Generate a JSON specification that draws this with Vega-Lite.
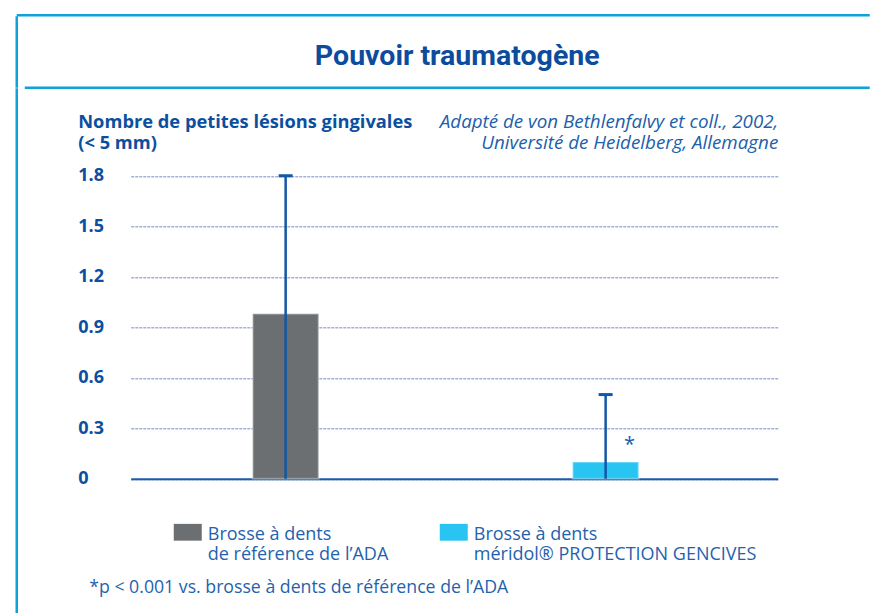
{
  "$schema": "https://vega.github.io/schema/vega-lite/v6.json",
  "padding": {"left": 14.75, "top": 8.25, "right": 0, "bottom": 0},
  "background": "white",
  "spacing": 0,
  "bounds": "flush",
  "config": {"font": "Open Sans", "concat": {"spacing": 0}},
  "datasets": {
    "barres": [
      {"brosse": "Brosse à dents|de référence de l’ADA", "moyenne": 0.98, "erreur_bas": 0, "erreur_haut": 1.8, "signif": ""},
      {"brosse": "Brosse à dents|méridol® PROTECTION GENCIVES", "moyenne": 0.1, "erreur_bas": 0, "erreur_haut": 0.5, "signif": "*"}
    ]
  },
  "vconcat": [
    {
      "width": 853,
      "height": 1,
      "data": {"values": [{"vide": ""}]},
      "view": {"stroke": "#0ea1da", "strokeWidth": 2.5, "strokeDash": [853, 855]},
      "mark": {"type": "text"},
      "encoding": {"text": {"field": "vide"}}
    },
    {
      "width": 853,
      "height": 71.5,
      "data": {"values": [{"titre": "Pouvoir traumatogène"}]},
      "view": {"stroke": "#0ea1da", "strokeWidth": 2.5, "strokeDash": [0, 924.5, 845, 8, 71.5, 0]},
      "mark": {"type": "text", "font": "Roboto", "fontWeight": "bold", "fontSize": 28.5, "color": "#0d4c9c", "baseline": "middle", "dx": 14, "dy": 3.5},
      "encoding": {"text": {"field": "titre"}}
    },
    {
      "width": 853,
      "height": 528,
      "data": {"name": "barres"},
      "view": {"stroke": "#0ea1da", "strokeWidth": 2.5, "strokeDash": [0, 2234, 528, 0]},
      "resolve": {"axis": {"y": "independent"}},
      "layer": [
        {
          "mark": {"type": "bar", "stroke": "white", "strokeOpacity": 0.3, "strokeWidth": 2},
          "encoding": {
            "x": {
              "field": "brosse", "type": "nominal", "sort": null,
              "scale": {"range": [114, 761], "paddingInner": 0.794, "paddingOuter": 0.408, "align": 0.467},
              "axis": {
                "orient": "bottom", "offset": -137.5, "labels": false, "ticks": false, "grid": false,
                "domain": true, "domainColor": "#1a5cab", "domainWidth": 2,
                "title": "*p < 0.001 vs. brosse à dents de référence de l’ADA",
                "titleX": 72, "titleY": 114, "titleAlign": "left", "titleAnchor": "start", "titleBaseline": "alphabetic",
                "titleFont": "Open Sans", "titleFontWeight": "normal", "titleFontSize": 17.7, "titleColor": "#1f62ad"
              }
            },
            "y": {
              "field": "moyenne", "type": "quantitative",
              "scale": {"domain": [0, 1.8], "range": [390.5, 87.5], "nice": false},
              "axis": {
                "orient": "left", "offset": -61, "values": [0, 0.3, 0.6, 0.9, 1.2, 1.5, 1.8],
                "labelExpr": "datum.value == 0 ? '0' : format(datum.value, '.1f')",
                "labelAlign": "left", "labelPadding": 0, "ticks": false, "domain": false,
                "labelFont": "Open Sans", "labelFontWeight": "bold", "labelFontSize": 18, "labelColor": "#0d4f9f", "labelBaseline": "middle",
                "grid": true, "gridColor": "#a4b1d6", "gridDash": [3, 1], "gridWidth": 1.5,
                "title": ["Nombre de petites lésions gingivales", "(< 5 mm)"],
                "titleAngle": 0, "titleAlign": "left", "titleBaseline": "alphabetic", "titleX": 0, "titleY": 39,
                "titleFont": "Open Sans", "titleFontWeight": "bold", "titleFontSize": 18.3, "titleColor": "#0d4f9f", "titleLineHeight": 21
              }
            },
            "color": {
              "field": "brosse", "type": "nominal",
              "scale": {"range": ["#6c6f72", "#28c4f2"]},
              "legend": {
                "orient": "none", "legendX": 157, "legendY": 497, "direction": "horizontal", "title": null,
                "symbolType": "M-1,-0.17H1V1.03H-1Z", "symbolSize": 784, "symbolStrokeWidth": 0, "symbolOpacity": 1,
                "labelExpr": "split(datum.label, '|')", "labelFont": "Open Sans", "labelFontSize": 18, "labelColor": "#1f62ad",
                "labelBaseline": "top", "labelOffset": 6, "columnPadding": 51, "labelLimit": 400
              }
            }
          }
        },
        {
          "mark": {"type": "rule", "color": "#1257a6", "strokeWidth": 2.5},
          "encoding": {
            "x": {"field": "brosse", "type": "nominal", "sort": null},
            "y": {
              "field": "erreur_bas", "type": "quantitative",
              "scale": {"domain": [0, 1.8], "range": [390.5, 87.5], "nice": false},
              "axis": {
                "orient": "right", "labels": false, "ticks": false, "domain": false, "grid": false,
                "title": ["Adapté de von Bethlenfalvy et coll., 2002,", "Université de Heidelberg, Allemagne"],
                "titleAngle": 0, "titleAlign": "right", "titleBaseline": "alphabetic", "titleX": -92, "titleY": 39,
                "titleFont": "Open Sans", "titleFontStyle": "italic", "titleFontWeight": "normal", "titleFontSize": 18.8, "titleColor": "#2060aa", "titleLineHeight": 21
              }
            },
            "y2": {"field": "erreur_haut"}
          }
        },
        {
          "mark": {"type": "tick", "orient": "horizontal", "size": 14, "thickness": 3, "color": "#1257a6", "opacity": 1},
          "encoding": {
            "x": {"field": "brosse", "type": "nominal", "sort": null},
            "y": {"field": "erreur_haut", "type": "quantitative", "scale": {"domain": [0, 1.8], "range": [390.5, 87.5], "nice": false}, "axis": null}
          }
        },
        {
          "mark": {"type": "text", "fontSize": 20, "color": "#1a5cab", "baseline": "alphabetic", "dx": 24, "dy": -11},
          "encoding": {
            "x": {"field": "brosse", "type": "nominal", "sort": null},
            "y": {"field": "moyenne", "type": "quantitative", "scale": {"domain": [0, 1.8], "range": [390.5, 87.5], "nice": false}, "axis": null},
            "text": {"field": "signif"}
          }
        }
      ]
    }
  ]
}
